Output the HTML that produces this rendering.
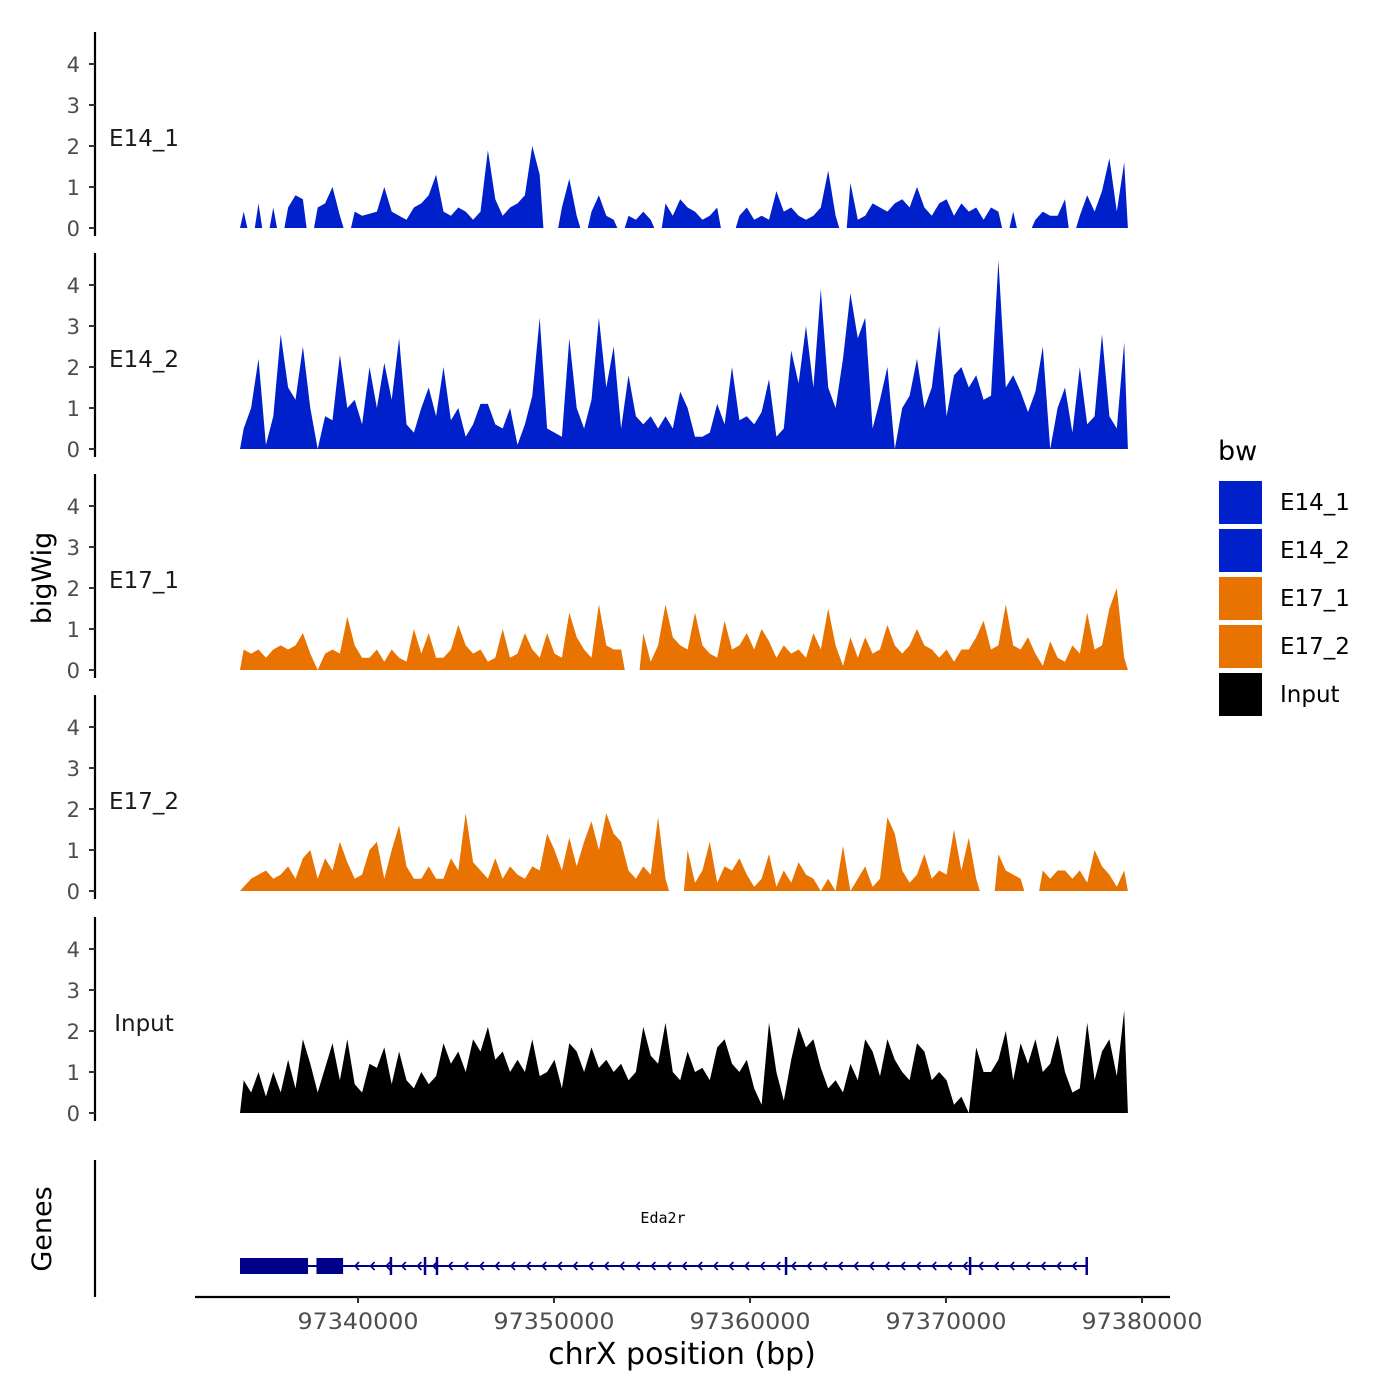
<!DOCTYPE html>
<html><head><meta charset="utf-8"><style>
body{margin:0;background:#fff}
svg{display:block;font-family:"DejaVu Sans","Liberation Sans",sans-serif}
</style></head><body>
<svg id="chart" width="1400" height="1400" viewBox="0 0 1400 1400" xmlns="http://www.w3.org/2000/svg">
<rect width="1400" height="1400" fill="#fff"/>
<g id="tracks"></g>
<g id="genes"></g>
<g id="xaxis"></g>
<text transform="translate(51,578) rotate(-90)" font-size="27" text-anchor="middle" fill="#000">bigWig</text>
<text transform="translate(51,1229) rotate(-90)" font-size="27" text-anchor="middle" fill="#000">Genes</text>
<text x="682" y="1364" font-size="30" text-anchor="middle" fill="#000">chrX position (bp)</text>
<g id="legend"></g>
</svg>
<script>
const trackNames = ["E14_1","E14_2","E17_1","E17_2","Input"];
const trackColors = ["#0020CC","#0020CC","#E87300","#E87300","#000000"];
const binStart = 97333980;
const binSize = 377.5;
const e14_1 = [0.4,null,0.6,null,0.5,null,0.5,0.8,0.7,null,0.5,0.6,1.0,0.3,null,0.4,0.3,0.35,0.4,1.0,0.4,0.3,0.2,0.5,0.6,0.8,1.3,0.4,0.3,0.5,0.4,0.2,0.4,1.9,0.7,0.3,0.5,0.6,0.8,2.0,1.3,null,null,0.5,1.2,0.3,null,0.4,0.8,0.3,0.2,null,0.3,0.2,0.4,0.2,null,0.6,0.3,0.7,0.5,0.4,0.2,0.3,0.5,null,null,0.3,0.5,0.2,0.3,0.2,0.9,0.4,0.5,0.3,0.2,0.3,0.5,1.4,0.3,null,1.1,0.2,0.3,0.6,0.5,0.4,0.6,0.7,0.5,1.0,0.5,0.3,0.6,0.7,0.3,0.6,0.4,0.5,0.2,0.5,0.4,null,0.4,null,null,0.2,0.4,0.3,0.3,0.7,null,0.3,0.8,0.4,0.9,1.7,0.4,1.6];
const e14_2 = [0.5,1.0,2.2,0.1,0.8,2.8,1.5,1.2,2.5,1.0,0.0,0.8,0.7,2.3,1.0,1.2,0.6,2.0,1.0,2.1,1.2,2.7,0.6,0.4,1.0,1.5,0.8,2.0,0.7,1.0,0.3,0.6,1.1,1.1,0.6,0.5,1.0,0.1,0.6,1.3,3.2,0.5,0.4,0.3,2.7,1.0,0.5,1.2,3.2,1.5,2.5,0.5,1.8,0.8,0.6,0.8,0.5,0.8,0.5,1.4,1.0,0.3,0.3,0.4,1.1,0.6,2.0,0.7,0.8,0.6,0.9,1.7,0.3,0.5,2.4,1.6,3.0,1.5,3.9,1.5,1.0,2.2,3.8,2.7,3.2,0.5,1.2,2.0,0.0,1.0,1.3,2.2,1.0,1.5,3.0,0.8,1.8,2.0,1.5,1.8,1.2,1.3,4.6,1.5,1.8,1.4,0.9,1.4,2.5,0.0,1.0,1.5,0.4,2.0,0.6,0.8,2.8,0.8,0.5,2.6];
const e17_1 = [0.5,0.4,0.5,0.3,0.5,0.6,0.5,0.6,0.9,0.4,0.0,0.4,0.5,0.4,1.3,0.6,0.3,0.3,0.5,0.2,0.5,0.3,0.2,1.0,0.4,0.9,0.3,0.3,0.5,1.1,0.6,0.4,0.5,0.2,0.3,1.0,0.3,0.4,0.9,0.5,0.3,0.9,0.4,0.3,1.4,0.8,0.5,0.3,1.6,0.6,0.5,0.5,null,null,0.9,0.2,0.6,1.6,0.8,0.6,0.5,1.4,0.6,0.4,0.3,1.2,0.5,0.6,0.9,0.5,1.0,0.7,0.3,0.6,0.4,0.5,0.3,0.9,0.5,1.5,0.6,0.1,0.8,0.3,0.8,0.4,0.5,1.1,0.6,0.4,0.6,1.0,0.6,0.5,0.3,0.5,0.2,0.5,0.5,0.8,1.2,0.5,0.6,1.6,0.6,0.5,0.8,0.4,0.1,0.7,0.3,0.2,0.6,0.4,1.4,0.5,0.6,1.5,2.0,0.3];
const e17_2 = [0.1,0.3,0.4,0.5,0.3,0.4,0.6,0.3,0.8,1.0,0.3,0.8,0.5,1.2,0.7,0.3,0.4,1.0,1.2,0.3,1.0,1.6,0.6,0.3,0.3,0.6,0.3,0.3,0.8,0.5,1.9,0.7,0.5,0.3,0.8,0.3,0.6,0.4,0.3,0.6,0.5,1.4,1.0,0.5,1.3,0.6,1.2,1.7,1.0,1.9,1.4,1.2,0.5,0.3,0.6,0.4,1.8,0.3,null,null,1.0,0.2,0.5,1.2,0.2,0.6,0.5,0.8,0.4,0.1,0.3,0.9,0.1,0.5,0.2,0.7,0.4,0.3,0.0,0.3,0.0,1.1,0.0,0.3,0.6,0.1,0.3,1.8,1.4,0.5,0.2,0.4,0.9,0.3,0.5,0.4,1.5,0.5,1.3,0.3,null,null,0.9,0.5,0.4,0.3,null,null,0.5,0.3,0.5,0.5,0.3,0.5,0.2,1.0,0.6,0.4,0.1,0.5];
const input = [0.8,0.5,1.0,0.4,1.0,0.5,1.3,0.6,1.8,1.2,0.5,1.1,1.7,0.8,1.8,0.7,0.5,1.2,1.1,1.6,0.7,1.5,0.8,0.6,1.0,0.7,0.9,1.7,1.2,1.5,1.0,1.8,1.5,2.1,1.3,1.5,1.0,1.3,1.0,1.8,0.9,1.0,1.3,0.6,1.7,1.5,1.0,1.6,1.1,1.3,1.0,1.2,0.8,1.0,2.1,1.4,1.2,2.2,1.0,0.8,1.5,1.0,1.1,0.8,1.6,1.8,1.2,1.0,1.3,0.6,0.2,2.2,1.0,0.3,1.3,2.1,1.6,1.8,1.1,0.6,0.8,0.5,1.2,0.8,1.8,1.5,0.9,1.8,1.3,1.0,0.8,1.7,1.5,0.8,1.0,0.8,0.2,0.4,0.0,1.6,1.0,1.0,1.3,2.0,0.8,1.7,1.2,1.8,1.0,1.2,1.9,1.0,0.5,0.6,2.2,0.8,1.5,1.8,0.9,2.5];
const yTicks = [0,1,2,3,4];
const xTicks = [97340000,97350000,97360000,97370000,97380000];
const geneName = "Eda2r";
const geneStart = 97333980, geneEnd = 97377180;
const exonStarts = [97333980,97337880];
const exonEnds = [97337450,97339240];
const introMarks = [97341680,97343420,97344030,97361840,97371230,97377180];

const NS="http://www.w3.org/2000/svg";
const trackData=[e14_1,e14_2,e17_1,e17_2,input];
function xs(bp){return 358+(bp-97340000)*0.0196;}
const baselines=[228,449,670,891,1113];
const unitPx=41;
function mk(tag,attrs,parent){const e=document.createElementNS(NS,tag);for(const k in attrs)e.setAttribute(k,attrs[k]);parent.appendChild(e);return e;}
const tracksG=document.getElementById('tracks');
trackData.forEach((data,t)=>{
  const b=baselines[t];
  const ys=v=>b-v*unitPx;
  const g=mk('g',{},tracksG);
  
  
  const ax=mk('line',{x1:95,x2:95,y1:b-196,y2:b+8,stroke:'#000','stroke-width':2.2},g);
  
  
  yTicks.forEach(v=>{
    const tk=mk('line',{x1:89,x2:95,y1:ys(v),y2:ys(v),stroke:'#333','stroke-width':2},g);
    
    
    const tl=mk('text',{x:80,y:ys(v)+8,'font-size':21,'text-anchor':'end',fill:'#4d4d4d'},g);
    
    
    tl.textContent=v;
  });
  const lab=mk('text',{x:144,y:ys(2.2)+8,'font-size':23,'text-anchor':'middle',fill:'#1a1a1a'},g);
  
  
  lab.textContent=trackNames[t];
  let run=[];
  const flush=()=>{
    if(!run.length)return;
    let d='M'+xs(binStart+run[0][0]*binSize)+','+b;
    run.forEach(([i,v])=>{d+=' L'+xs(binStart+(i+0.5)*binSize).toFixed(1)+','+ys(v).toFixed(1);});
    d+=' L'+xs(binStart+(run[run.length-1][0]+1)*binSize).toFixed(1)+','+b+' Z';
    const p=mk('path',{d:d,fill:trackColors[t]},g);
    
    
    run=[];
  };
  data.forEach((v,i)=>{if(v===null)flush();else run.push([i,v]);});
  flush();
});
const gg=document.getElementById('genes');
const gax=mk('line',{x1:95,x2:95,y1:1160,y2:1297,stroke:'#000','stroke-width':2.2},gg);


const gy=1266,col='#00008B';
const gl=mk('line',{x1:xs(geneStart),x2:xs(geneEnd),y1:gy,y2:gy,stroke:col,'stroke-width':2},gg);


for(let x=xs(geneStart)+115;x<xs(geneEnd)-5;x+=15.6){
  const a=mk('polyline',{points:`${x+4},${gy-4} ${x},${gy} ${x+4},${gy+4}`,fill:'none',stroke:col,'stroke-width':1.6},gg);
  
  
}
exonStarts.forEach((s,i)=>{
  const r=mk('rect',{x:xs(s),y:gy-8,width:xs(exonEnds[i])-xs(s),height:16,fill:col},gg);
  
  
});
introMarks.forEach(m=>{
  const l=mk('line',{x1:xs(m),x2:xs(m),y1:gy-9,y2:gy+9,stroke:col,'stroke-width':2.5},gg);
  
  
});
const gn=mk('text',{x:663,y:1223,'font-size':15,'text-anchor':'middle',fill:'#000','font-family':'DejaVu Sans Mono, Liberation Mono, monospace'},gg);


gn.textContent=geneName;
const xg=document.getElementById('xaxis');
const xl=mk('line',{x1:195,x2:1170,y1:1297,y2:1297,stroke:'#000','stroke-width':2.2},xg);


xTicks.forEach(v=>{
  const t=mk('line',{x1:xs(v),x2:xs(v),y1:1297,y2:1303,stroke:'#333','stroke-width':2},xg);
  
  
  const tl=mk('text',{x:xs(v),y:1329,'font-size':22,'text-anchor':'middle',fill:'#4d4d4d',textLength:121,lengthAdjust:'spacingAndGlyphs'},xg);
  
  
  tl.textContent=v;
});
const lg=document.getElementById('legend');
const lt=mk('text',{x:1218,y:460,'font-size':27,fill:'#000'},lg);


lt.textContent='bw';
trackNames.forEach((n,i)=>{
  const y=481+i*48;
  const r=mk('rect',{x:1219,y:y,width:43,height:43,fill:trackColors[i]},lg);
  
  
  const t=mk('text',{x:1280,y:y+29,'font-size':23,fill:'#000'},lg);
  
  
  t.textContent=n;
});
</script>
</body></html>
